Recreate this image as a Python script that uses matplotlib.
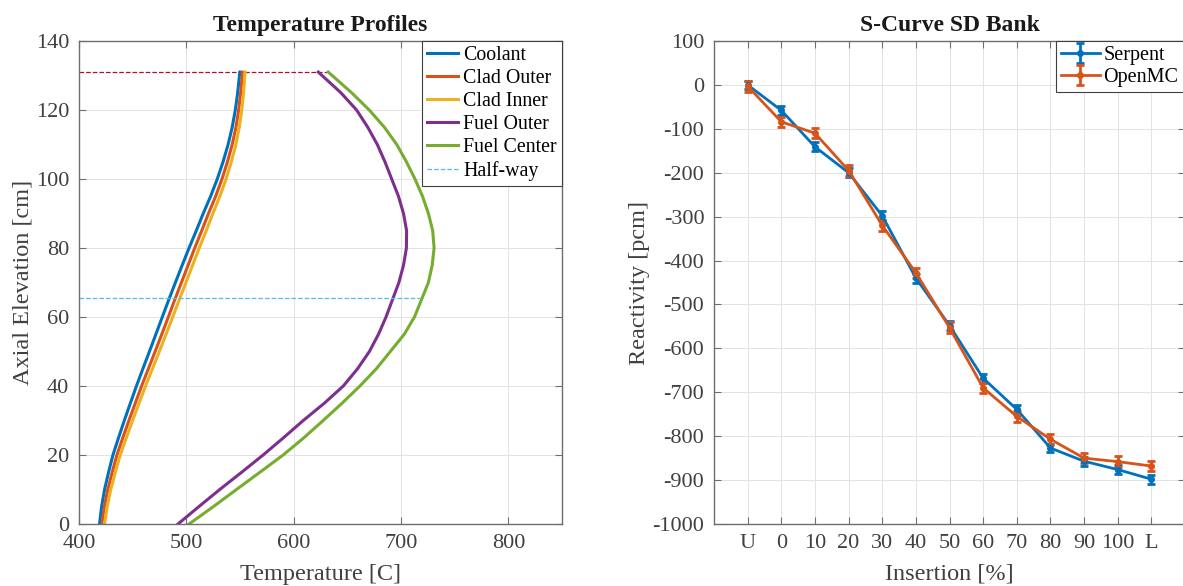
import numpy as np
import matplotlib
matplotlib.use('Agg')
import matplotlib.pyplot as plt

plt.rcParams['font.family'] = ['Liberation Serif', 'DejaVu Serif']
plt.rcParams['axes.unicode_minus'] = False

# Temperature profiles
z = [0, 5, 10, 15, 20, 25, 30, 35, 40, 45, 50, 55, 60, 65,
     70, 75, 80, 85, 90, 95, 100, 105, 110, 115, 120, 125, 131]
t_coolant = [419.1, 421.0, 423.8, 427.5, 431.6, 436.8, 442.2, 447.8, 453.5, 459.5, 465.6, 471.6, 477.6, 483.6,
             489.8, 496.1, 502.5, 509.2, 515.7, 522.6, 528.8, 534.2, 538.9, 542.7, 545.6, 547.8, 549.8]
t_clad_out = [421.3, 423.6, 426.8, 430.9, 435.3, 440.8, 446.5, 452.4, 458.3, 464.6, 470.9, 477.1, 483.2, 489.2,
              495.4, 501.6, 507.8, 514.3, 520.6, 527.3, 533.2, 538.3, 542.7, 546.2, 548.7, 550.6, 552.3]
t_clad_in = [423.8, 426.2, 429.6, 433.8, 438.4, 444.1, 449.9, 455.9, 462.0, 468.4, 474.8, 481.1, 487.3, 493.4,
             499.6, 505.8, 512.0, 518.5, 524.7, 531.2, 537.0, 541.9, 546.1, 549.3, 551.6, 553.3, 554.7]
t_fuel_out = [492.2, 511.5, 531.1, 551.5, 571.5, 590.5, 608.9, 628.5, 646.2, 659.5, 670.5, 679.0, 686.0, 692.0,
              698.0, 702.3, 705.0, 705.2, 702.3, 697.6, 691.3, 685.0, 677.9, 669.0, 658.6, 644.0, 622.9]
t_fuel_ctr = [502.5, 525.0, 546.7, 568.5, 590.2, 609.5, 627.5, 645.0, 661.7, 677.0, 690.0, 703.0, 712.5, 719.0,
              725.5, 729.0, 730.8, 729.5, 725.5, 720.0, 713.0, 705.0, 696.0, 684.5, 670.4, 654.0, 632.2]
top_z = 131
top_t = [400, 632]
half_z = 65.5
half_t = [400, 719]

# S-curve
ins_labels = ['U', '0', '10', '20', '30', '40', '50', '60', '70', '80', '90', '100', 'L']
serpent = [0, -58, -141, -200, -298, -440, -548, -668, -739, -827, -857, -876, -898]
serpent_err = [10, 10, 10, 10, 10, 10, 10, 10, 10, 10, 10, 10, 10]
openmc = [-3, -84, -110, -195, -320, -428, -553, -690, -755, -807, -850, -858, -868]
openmc_err = [12, 12, 12, 12, 12, 12, 12, 12, 12, 12, 12, 12, 12]

c_blue = '#0072BD'
c_red = '#D95319'
c_yel = '#EDB120'
c_pur = '#7E2F8E'
c_grn = '#77AC30'
c_cyan = '#4DBEEE'
c_dred = '#A2142F'
txt = '#404040'

fig = plt.figure(figsize=(11.83, 5.86), dpi=100)
ax1 = fig.add_axes([0.0668, 0.1058, 0.4083, 0.8242])
ax2 = fig.add_axes([0.6036, 0.1058, 0.3981, 0.8242])

def style(ax):
    ax.grid(True, color='#e3e3e3', linewidth=0.7)
    ax.set_axisbelow(True)
    for s in ax.spines.values():
        s.set_color('#6e6e6e')
        s.set_linewidth(1.0)
    ax.tick_params(direction='in', top=True, right=True, length=5, width=0.8,
                   color='#6e6e6e', labelsize=16, labelcolor=txt, pad=7)

# left panel
ax1.plot(top_t, [top_z, top_z], '--', color=c_dred, linewidth=0.9)
ax1.plot(t_coolant, z, color=c_blue, linewidth=2.2, label='Coolant')
ax1.plot(t_clad_out, z, color=c_red, linewidth=2.2, label='Clad Outer')
ax1.plot(t_clad_in, z, color=c_yel, linewidth=2.2, label='Clad Inner')
ax1.plot(t_fuel_out, z, color=c_pur, linewidth=2.2, label='Fuel Outer')
ax1.plot(t_fuel_ctr, z, color=c_grn, linewidth=2.2, label='Fuel Center')
ax1.plot(half_t, [half_z, half_z], '--', color=c_cyan, linewidth=0.9, label='Half-way')
ax1.set_xlim(400, 850)
ax1.set_ylim(0, 140)
ax1.set_xticks([400, 500, 600, 700, 800])
ax1.set_yticks(np.arange(0, 141, 20))
style(ax1)
ax1.set_xlabel('Temperature [C]', fontsize=17.5, color=txt, labelpad=8)
ax1.set_ylabel('Axial Elevation [cm]', fontsize=17.5, color=txt, labelpad=2)
ax1.set_title('Temperature Profiles', fontsize=17, fontweight='bold', color='#1a1a1a', pad=7)
leg1 = ax1.legend(loc='upper right', fontsize=14.3, fancybox=False, framealpha=1,
                  edgecolor='#404040', borderaxespad=0, handlelength=1.6,
                  handletextpad=0.25, labelspacing=0.2, borderpad=0.25)
leg1.get_frame().set_linewidth(0.8)

# right panel
x = np.arange(1, len(ins_labels) + 1)
ax2.errorbar(x, serpent, yerr=serpent_err, color=c_blue, marker='.', markersize=8,
             linewidth=2, elinewidth=2, capsize=3, capthick=2, label='Serpent')
ax2.errorbar(x, openmc, yerr=openmc_err, color=c_red, marker='.', markersize=8,
             linewidth=2, elinewidth=2, capsize=3, capthick=2, label='OpenMC')
ax2.set_xlim(0, 14)
ax2.set_ylim(-1000, 100)
ax2.set_xticks(x)
ax2.set_xticklabels(ins_labels)
ax2.set_yticks(np.arange(-1000, 101, 100))
style(ax2)
ax2.set_xlabel('Insertion [%]', fontsize=17.5, color=txt, labelpad=8)
ax2.set_ylabel('Reactivity [pcm]', fontsize=17.5, color=txt, labelpad=2)
ax2.set_title('S-Curve SD Bank', fontsize=17, fontweight='bold', color='#1a1a1a', pad=7)
leg2 = ax2.legend(loc='upper right', bbox_to_anchor=(0.997, 1.0), fontsize=14.5,
                  fancybox=False, framealpha=1, edgecolor='#404040', borderaxespad=0,
                  handlelength=1.9, handletextpad=0.2, labelspacing=0.15, borderpad=0.25)
leg2.get_frame().set_linewidth(0.8)

fig.savefig('out.png', dpi=100)
